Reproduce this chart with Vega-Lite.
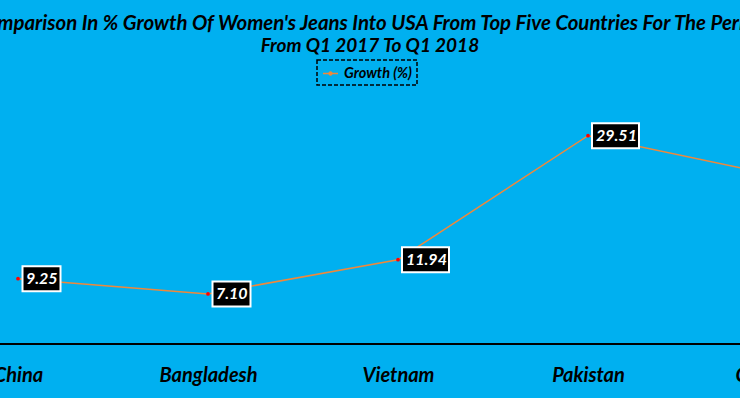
{
  "$schema": "https://vega.github.io/schema/vega-lite/v6.json",
  "width": 740,
  "height": 247,
  "autosize": {"type": "none"},
  "padding": {"top": 97, "bottom": 54, "left": 0, "right": 0},
  "background": "#00B0F0",
  "config": {
    "view": {"stroke": null},
    "font": "Lato"
  },
  "title": {
    "text": "Comparison In % Growth Of Women's Jeans Into USA From Top Five Countries For The Period",
    "subtitle": "From Q1 2017 To Q1 2018",
    "font": "Lato",
    "fontSize": 20.4,
    "fontWeight": "bold",
    "fontStyle": "italic",
    "color": "black",
    "subtitleFont": "Lato",
    "subtitleFontSize": 19,
    "subtitleFontWeight": "bold",
    "subtitleFontStyle": "italic",
    "subtitleColor": "black",
    "subtitlePadding": 3,
    "anchor": "middle",
    "offset": 3
  },
  "data": {
    "values": [
      {"country": "China", "value": 9.25},
      {"country": "Bangladesh", "value": 7.10},
      {"country": "Vietnam", "value": 11.94},
      {"country": "Pakistan", "value": 29.51},
      {"country": "Cambodia", "value": 23.83}
    ]
  },
  "encoding": {
    "x": {
      "field": "country",
      "type": "nominal",
      "sort": null,
      "scale": {"type": "point", "range": [18, 778], "padding": 0},
      "axis": {
        "title": null,
        "domain": false,
        "ticks": false,
        "tickSize": 0,
        "labelPadding": 21,
        "labelAngle": 0,
        "labelFont": "Lato",
        "labelFontSize": 20,
        "labelFontWeight": "bold",
        "labelFontStyle": "italic",
        "labelColor": "black",
        "labelOverlap": false,
        "labelBound": false,
        "labelFlush": false,
        "grid": false
      }
    },
    "y": {
      "field": "value",
      "type": "quantitative",
      "scale": {"domain": [0, 35], "nice": false, "zero": true},
      "axis": null
    }
  },
  "layer": [
    {
      "mark": {"type": "rule", "color": "black", "strokeWidth": 2},
      "encoding": {"x": null, "y": {"datum": 0}}
    },
    {
      "mark": {"type": "line", "strokeWidth": 1.5},
      "encoding": {
        "color": {
          "datum": "Growth (%)",
          "scale": {"range": ["#F0883A"]},
          "legend": {
            "title": null,
            "orient": "none",
            "legendX": 317,
            "legendY": -37,
            "padding": 5,
            "strokeColor": "black",
            "symbolType": "M-1,0H1M-0.2,0A0.2,0.2 0 1 1 0.2,0A0.2,0.2 0 1 1 -0.2,0Z",
            "symbolSize": 225,
            "symbolStrokeWidth": 1.5,
            "labelFont": "Lato",
            "labelFontSize": 14.5,
            "labelFontWeight": "bold",
            "labelFontStyle": "italic",
            "labelColor": "black",
            "labelOffset": 5,
            "encode": {
              "legend": {"update": {"stroke": {"value": "black"}, "strokeDash": {"value": [4, 2]}, "strokeWidth": {"value": 1.5}}},
              "symbols": {"update": {"fill": {"value": "#FF0000"}, "stroke": {"value": "#F0883A"}, "opacity": {"value": 1}}}
            }
          }
        }
      }
    },
    {
      "mark": {"type": "point", "shape": "circle", "filled": true, "color": "#FF0000", "size": 14, "opacity": 1}
    },
    {
      "transform": [{"filter": "datum.value < 10"}],
      "mark": {"type": "point", "shape": "M4.5,-12.5H42.5V12.5H4.5Z", "size": 4, "filled": true, "fill": "black", "stroke": "white", "strokeWidth": 2, "opacity": 1}
    },
    {
      "transform": [{"filter": "datum.value >= 10"}],
      "mark": {"type": "point", "shape": "M4,-12.5H51V12.5H4Z", "size": 4, "filled": true, "fill": "black", "stroke": "white", "strokeWidth": 2, "opacity": 1}
    },
    {
      "mark": {"type": "text", "align": "left", "baseline": "middle", "dx": 8, "dy": 0, "font": "Lato", "fontSize": 16, "fontWeight": "bold", "fontStyle": "italic", "color": "white"},
      "encoding": {"text": {"field": "value", "type": "quantitative", "format": ".2f"}}
    }
  ]
}
